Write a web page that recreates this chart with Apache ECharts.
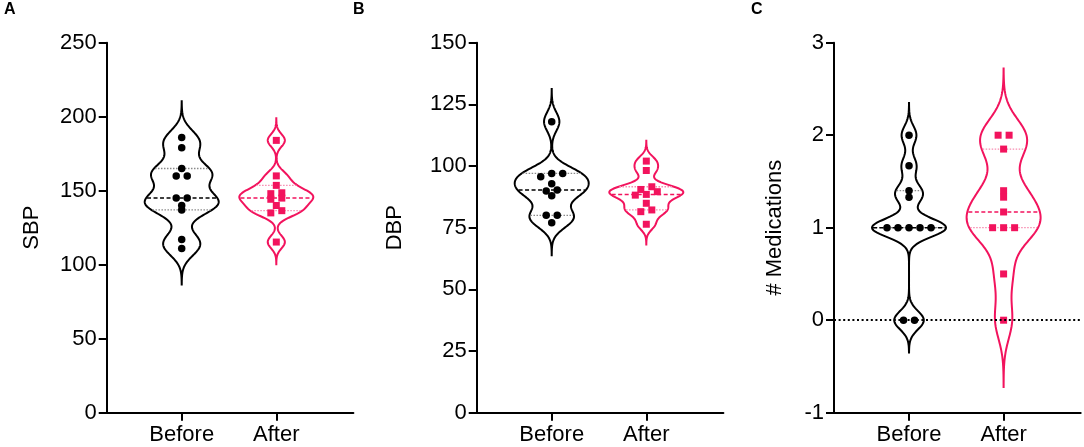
<!DOCTYPE html>
<html>
<head>
<meta charset="utf-8">
<script src="https://cdn.jsdelivr.net/npm/echarts@6/dist/echarts.min.js"></script>
<style>
  html, body { margin: 0; padding: 0; background: #fff; }
  #chart { width: 1084px; height: 447px; }
</style>
</head>
<body>
<div id="chart"></div>
<script>
// values
var categories = ['Before', 'After'];
var sbpBefore = [186, 179, 165, 160, 160, 145, 145, 140, 137, 117, 111];
var sbpAfter = [184, 160, 153.6, 148.6, 148, 145, 144.2, 140, 136.5, 135, 115.3];
var dbpBefore = [118, 97, 97, 95.7, 92.8, 90.3, 89.9, 88, 80, 80, 77];
var dbpAfter = [102, 98.2, 91.6, 90.5, 89.6, 88.5, 88.2, 84.9, 82.2, 81.5, 76.4];
var medBefore = [2, 1.67, 1.4, 1.33, 1, 1, 1, 1, 1, 0, 0];
var medAfter = [2, 2, 1.85, 1.4, 1.33, 1.17, 1, 1, 1, 0.5, 0];
var sbpTicks = [0, 250, 50];
var dbpTicks = [0, 150, 25];
var medTicks = [-1, 3, 1];

var BLACK = '#000000';
var PINK = '#f2135d';
var FONT = 'Liberation Sans, Arial, sans-serif';
var HALF = 37;      // max half width of a violin, px
var SMOOTH = 0.6;   // bandwidth factor on Silverman's rule
var EXT = 3.5;      // tails run this many bandwidths past the data
var GRID_TOP = 42.7, GRID_H = 370, GRID_W = 246.7;
var X_MIN = 0.207, X_MAX = 2.815;

var chart = echarts.init(document.getElementById('chart'));

function quant(s, p) {
  var n = s.length, pos = (n + 1) * p, lo = Math.floor(pos), f = pos - lo;
  if (lo < 1) return s[0];
  if (lo >= n) return s[n - 1];
  return s[lo - 1] + f * (s[lo] - s[lo - 1]);
}

function makeViolin(vals) {
  var s = vals.slice().sort(function (a, b) { return a - b; });
  var n = s.length;
  var mean = s.reduce(function (a, b) { return a + b; }, 0) / n;
  var sd = Math.sqrt(s.reduce(function (a, b) { return a + (b - mean) * (b - mean); }, 0) / (n - 1));
  var q1 = quant(s, 0.25), med = quant(s, 0.5), q3 = quant(s, 0.75);
  var h = SMOOTH * 0.9 * Math.min(sd, (q3 - q1) / 1.34) * Math.pow(n, -0.2);
  var dens = function (y) {
    var t = 0;
    for (var i = 0; i < n; i++) { var z = (y - s[i]) / h; t += Math.exp(-0.5 * z * z); }
    return t;
  };
  var lo = s[0] - EXT * h, hi = s[n - 1] + EXT * h;
  var ys = [], ds = [], dmax = 0;
  for (var i = 0; i <= 200; i++) {
    var y = lo + (hi - lo) * i / 200;
    var d = dens(y);
    ys.push(y); ds.push(d);
    if (d > dmax) dmax = d;
  }
  return { ys: ys, ds: ds, dmax: dmax, dens: dens, q1: q1, med: med, q3: q3 };
}

// rows of near-equal values spread sideways, like the prism dot layout
function swarm(vals, xPos, pxPerUnit) {
  var idx = vals.map(function (v, i) { return i; }).sort(function (a, b) { return vals[b] - vals[a]; });
  var rows = [], cur = null;
  idx.forEach(function (i) {
    if (cur && (vals[cur[0]] - vals[i]) * pxPerUnit < 4) cur.push(i);
    else { cur = [i]; rows.push(cur); }
  });
  var out = [];
  rows.forEach(function (r) {
    r.sort(function (a, b) { return vals[a] - vals[b]; });
    r.forEach(function (i, k) {
      out.push({ value: [xPos, vals[i]], symbolOffset: [(k - (r.length - 1) / 2) * 11, 0] });
    });
  });
  return out;
}

function violinSeries(g, vals, xPos, color, light) {
  var v = makeViolin(vals);
  return {
    type: 'custom', xAxisIndex: g, yAxisIndex: g, z: 2, silent: true,
    data: [[xPos, v.med]],
    renderItem: function (params, api) {
      var right = [], left = [];
      for (var i = 0; i < v.ys.length; i++) {
        var c = api.coord([xPos, v.ys[i]]);
        var w = HALF * v.ds[i] / v.dmax;
        right.push([c[0] + w, c[1]]);
        left.unshift([c[0] - w, c[1]]);
      }
      var kids = [{
        type: 'polygon', shape: { points: right.concat(left) },
        style: { fill: 'none', stroke: color, lineWidth: 2 }
      }];
      [[v.q1, false], [v.q3, false], [v.med, true]].forEach(function (q) {
        var c = api.coord([xPos, q[0]]);
        var w = HALF * v.dens(q[0]) / v.dmax - 1;
        kids.push({
          type: 'line', shape: { x1: c[0] - w, y1: c[1], x2: c[0] + w, y2: c[1] },
          style: q[1] ? { stroke: color, lineWidth: 1.5, lineDash: [4, 2.5] }
                      : { stroke: light, lineWidth: 1.3, lineDash: [1.5, 1.5] }
        });
      });
      return { type: 'group', children: kids };
    }
  };
}

var panels = [
  { letter: 'A', letterX: 2, name: 'SBP', left: 106.7, ticks: sbpTicks, nameGap: 64, before: sbpBefore, after: sbpAfter },
  { letter: 'B', letterX: 351, name: 'DBP', left: 476.7, ticks: dbpTicks, nameGap: 71, before: dbpBefore, after: dbpAfter },
  { letter: 'C', letterX: 749, name: '# Medications', left: 834, ticks: medTicks, nameGap: 48, before: medBefore, after: medAfter, zero: true }
];

var option = {
  animation: false,
  textStyle: { fontFamily: FONT },
  title: [], grid: [], xAxis: [], yAxis: [], series: []
};

panels.forEach(function (p, g) {
  var pxPerUnit = GRID_H / (p.ticks[1] - p.ticks[0]);
  option.title.push({ text: p.letter, left: p.letterX, top: 0, padding: [2, 2],
    textStyle: { fontSize: 16, fontWeight: 'bold', color: BLACK, fontFamily: FONT } });
  option.grid.push({ left: p.left, top: GRID_TOP, width: GRID_W, height: GRID_H });
  option.xAxis.push({
    type: 'value', gridIndex: g, min: X_MIN, max: X_MAX,
    axisLine: { onZero: false, lineStyle: { color: BLACK, width: 2 } },
    axisTick: { customValues: [1, 2], length: 8, lineStyle: { color: BLACK, width: 2 } },
    axisLabel: { customValues: [1, 2], margin: 11, fontSize: 22, color: BLACK,
      formatter: function (val) { return categories[Math.round(val) - 1]; } },
    splitLine: { show: false }
  });
  option.yAxis.push({
    type: 'value', gridIndex: g, min: p.ticks[0], max: p.ticks[1], interval: p.ticks[2],
    name: p.name, nameLocation: 'middle', nameGap: p.nameGap,
    nameTextStyle: { fontSize: 22, color: BLACK },
    axisLine: { show: true, onZero: false, lineStyle: { color: BLACK, width: 2 } },
    axisTick: { show: true, length: 8, lineStyle: { color: BLACK, width: 2 } },
    axisLabel: { margin: 10, fontSize: 22, color: BLACK },
    splitLine: { show: false }
  });
  if (p.zero) {
    option.series.push({
      type: 'line', xAxisIndex: g, yAxisIndex: g, data: [], z: 1,
      markLine: { silent: true, symbol: 'none', label: { show: false },
        lineStyle: { color: BLACK, width: 2, type: [2, 2.6] }, data: [{ yAxis: 0 }] }
    });
  }
  option.series.push(violinSeries(g, p.before, 1, BLACK, '#8a8a8a'));
  option.series.push(violinSeries(g, p.after, 2, PINK, '#f78bb0'));
  option.series.push({
    type: 'scatter', xAxisIndex: g, yAxisIndex: g, z: 3, symbol: 'circle', symbolSize: 7.5,
    itemStyle: { color: BLACK, opacity: 1 }, data: swarm(p.before, 1, pxPerUnit)
  });
  option.series.push({
    type: 'scatter', xAxisIndex: g, yAxisIndex: g, z: 3, symbol: 'rect', symbolSize: 7,
    itemStyle: { color: PINK, opacity: 1 }, data: swarm(p.after, 2, pxPerUnit)
  });
});

chart.setOption(option);
</script>
</body>
</html>
